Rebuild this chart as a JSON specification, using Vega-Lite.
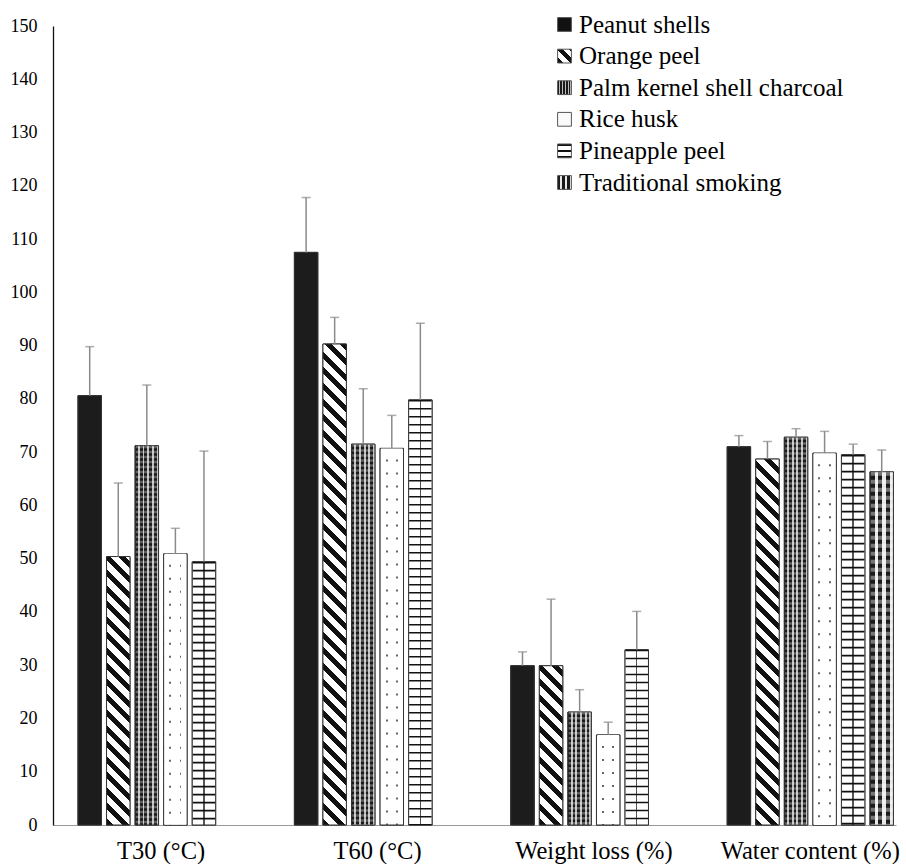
{
  "$schema": "https://vega.github.io/schema/vega-lite/v6.json",
  "autosize": {"type": "none"},
  "padding": {"left": 53, "top": 26, "right": 10, "bottom": 39},
  "width": 843,
  "height": 799,
  "background": "white",
  "config": {
    "view": {"stroke": null},
    "font": "Liberation Serif",
    "axis": {"labelFont": "Liberation Serif", "labelColor": "#000", "grid": false, "ticks": false, "title": null}
  },
  "params": [
    {"name": "diagStops", "value": [
      {"offset":0,"color":"#111"},{"offset":0.01125,"color":"#111"},{"offset":0.01125,"color":"#fff"},{"offset":0.025,"color":"#fff"},
      {"offset":0.025,"color":"#111"},{"offset":0.03625,"color":"#111"},{"offset":0.03625,"color":"#fff"},{"offset":0.05,"color":"#fff"},
      {"offset":0.05,"color":"#111"},{"offset":0.06125,"color":"#111"},{"offset":0.06125,"color":"#fff"},{"offset":0.075,"color":"#fff"},
      {"offset":0.075,"color":"#111"},{"offset":0.08625,"color":"#111"},{"offset":0.08625,"color":"#fff"},{"offset":0.1,"color":"#fff"},
      {"offset":0.1,"color":"#111"},{"offset":0.11125,"color":"#111"},{"offset":0.11125,"color":"#fff"},{"offset":0.125,"color":"#fff"},
      {"offset":0.125,"color":"#111"},{"offset":0.13625,"color":"#111"},{"offset":0.13625,"color":"#fff"},{"offset":0.15,"color":"#fff"},
      {"offset":0.15,"color":"#111"},{"offset":0.16125,"color":"#111"},{"offset":0.16125,"color":"#fff"},{"offset":0.175,"color":"#fff"},
      {"offset":0.175,"color":"#111"},{"offset":0.18625,"color":"#111"},{"offset":0.18625,"color":"#fff"},{"offset":0.2,"color":"#fff"},
      {"offset":0.2,"color":"#111"},{"offset":0.21125,"color":"#111"},{"offset":0.21125,"color":"#fff"},{"offset":0.225,"color":"#fff"},
      {"offset":0.225,"color":"#111"},{"offset":0.23625,"color":"#111"},{"offset":0.23625,"color":"#fff"},{"offset":0.25,"color":"#fff"},
      {"offset":0.25,"color":"#111"},{"offset":0.26125,"color":"#111"},{"offset":0.26125,"color":"#fff"},{"offset":0.275,"color":"#fff"},
      {"offset":0.275,"color":"#111"},{"offset":0.28625,"color":"#111"},{"offset":0.28625,"color":"#fff"},{"offset":0.3,"color":"#fff"},
      {"offset":0.3,"color":"#111"},{"offset":0.31125,"color":"#111"},{"offset":0.31125,"color":"#fff"},{"offset":0.325,"color":"#fff"},
      {"offset":0.325,"color":"#111"},{"offset":0.33625,"color":"#111"},{"offset":0.33625,"color":"#fff"},{"offset":0.35,"color":"#fff"},
      {"offset":0.35,"color":"#111"},{"offset":0.36125,"color":"#111"},{"offset":0.36125,"color":"#fff"},{"offset":0.375,"color":"#fff"},
      {"offset":0.375,"color":"#111"},{"offset":0.38625,"color":"#111"},{"offset":0.38625,"color":"#fff"},{"offset":0.4,"color":"#fff"},
      {"offset":0.4,"color":"#111"},{"offset":0.41125,"color":"#111"},{"offset":0.41125,"color":"#fff"},{"offset":0.425,"color":"#fff"},
      {"offset":0.425,"color":"#111"},{"offset":0.43625,"color":"#111"},{"offset":0.43625,"color":"#fff"},{"offset":0.45,"color":"#fff"},
      {"offset":0.45,"color":"#111"},{"offset":0.46125,"color":"#111"},{"offset":0.46125,"color":"#fff"},{"offset":0.475,"color":"#fff"},
      {"offset":0.475,"color":"#111"},{"offset":0.48625,"color":"#111"},{"offset":0.48625,"color":"#fff"},{"offset":0.5,"color":"#fff"},
      {"offset":0.5,"color":"#111"},{"offset":0.51125,"color":"#111"},{"offset":0.51125,"color":"#fff"},{"offset":0.525,"color":"#fff"},
      {"offset":0.525,"color":"#111"},{"offset":0.53625,"color":"#111"},{"offset":0.53625,"color":"#fff"},{"offset":0.55,"color":"#fff"},
      {"offset":0.55,"color":"#111"},{"offset":0.56125,"color":"#111"},{"offset":0.56125,"color":"#fff"},{"offset":0.575,"color":"#fff"},
      {"offset":0.575,"color":"#111"},{"offset":0.58625,"color":"#111"},{"offset":0.58625,"color":"#fff"},{"offset":0.6,"color":"#fff"},
      {"offset":0.6,"color":"#111"},{"offset":0.61125,"color":"#111"},{"offset":0.61125,"color":"#fff"},{"offset":0.625,"color":"#fff"},
      {"offset":0.625,"color":"#111"},{"offset":0.63625,"color":"#111"},{"offset":0.63625,"color":"#fff"},{"offset":0.65,"color":"#fff"},
      {"offset":0.65,"color":"#111"},{"offset":0.66125,"color":"#111"},{"offset":0.66125,"color":"#fff"},{"offset":0.675,"color":"#fff"},
      {"offset":0.675,"color":"#111"},{"offset":0.68625,"color":"#111"},{"offset":0.68625,"color":"#fff"},{"offset":0.7,"color":"#fff"},
      {"offset":0.7,"color":"#111"},{"offset":0.71125,"color":"#111"},{"offset":0.71125,"color":"#fff"},{"offset":0.725,"color":"#fff"},
      {"offset":0.725,"color":"#111"},{"offset":0.73625,"color":"#111"},{"offset":0.73625,"color":"#fff"},{"offset":0.75,"color":"#fff"},
      {"offset":0.75,"color":"#111"},{"offset":0.76125,"color":"#111"},{"offset":0.76125,"color":"#fff"},{"offset":0.775,"color":"#fff"},
      {"offset":0.775,"color":"#111"},{"offset":0.78625,"color":"#111"},{"offset":0.78625,"color":"#fff"},{"offset":0.8,"color":"#fff"},
      {"offset":0.8,"color":"#111"},{"offset":0.81125,"color":"#111"},{"offset":0.81125,"color":"#fff"},{"offset":0.825,"color":"#fff"},
      {"offset":0.825,"color":"#111"},{"offset":0.83625,"color":"#111"},{"offset":0.83625,"color":"#fff"},{"offset":0.85,"color":"#fff"},
      {"offset":0.85,"color":"#111"},{"offset":0.86125,"color":"#111"},{"offset":0.86125,"color":"#fff"},{"offset":0.875,"color":"#fff"},
      {"offset":0.875,"color":"#111"},{"offset":0.88625,"color":"#111"},{"offset":0.88625,"color":"#fff"},{"offset":0.9,"color":"#fff"},
      {"offset":0.9,"color":"#111"},{"offset":0.91125,"color":"#111"},{"offset":0.91125,"color":"#fff"},{"offset":0.925,"color":"#fff"},
      {"offset":0.925,"color":"#111"},{"offset":0.93625,"color":"#111"},{"offset":0.93625,"color":"#fff"},{"offset":0.95,"color":"#fff"},
      {"offset":0.95,"color":"#111"},{"offset":0.96125,"color":"#111"},{"offset":0.96125,"color":"#fff"},{"offset":0.975,"color":"#fff"},
      {"offset":0.975,"color":"#111"},{"offset":0.98625,"color":"#111"},{"offset":0.98625,"color":"#fff"},{"offset":1,"color":"#fff"}
    ]},
    {"name": "palmStops", "value": [
      {"offset":0,"color":"#1a1a1a"},{"offset":0.12,"color":"#1a1a1a"},{"offset":0.12,"color":"#bdbdbd"},{"offset":0.2,"color":"#bdbdbd"},
      {"offset":0.2,"color":"#1a1a1a"},{"offset":0.32,"color":"#1a1a1a"},{"offset":0.32,"color":"#bdbdbd"},{"offset":0.4,"color":"#bdbdbd"},
      {"offset":0.4,"color":"#1a1a1a"},{"offset":0.52,"color":"#1a1a1a"},{"offset":0.52,"color":"#bdbdbd"},{"offset":0.6,"color":"#bdbdbd"},
      {"offset":0.6,"color":"#1a1a1a"},{"offset":0.72,"color":"#1a1a1a"},{"offset":0.72,"color":"#bdbdbd"},{"offset":0.8,"color":"#bdbdbd"},
      {"offset":0.8,"color":"#1a1a1a"},{"offset":0.92,"color":"#1a1a1a"},{"offset":0.92,"color":"#bdbdbd"},{"offset":1,"color":"#bdbdbd"}
    ]},
    {"name": "riceStops", "value": [
      {"offset":0,"color":"#fff"},{"offset":0.24,"color":"#fff"},{"offset":0.24,"color":"#666"},{"offset":0.32,"color":"#666"},
      {"offset":0.32,"color":"#fff"},{"offset":0.68,"color":"#fff"},{"offset":0.68,"color":"#666"},{"offset":0.76,"color":"#666"},
      {"offset":0.76,"color":"#fff"},{"offset":1,"color":"#fff"}
    ]},
    {"name": "pineStops", "value": [
      {"offset":0,"color":"#fff"},{"offset":0.47,"color":"#fff"},{"offset":0.47,"color":"#555"},{"offset":0.53,"color":"#555"},
      {"offset":0.53,"color":"#fff"},{"offset":1,"color":"#fff"}
    ]},
    {"name": "tradStops", "value": [
      {"offset":0,"color":"#1a1a1a"},{"offset":0.2,"color":"#1a1a1a"},{"offset":0.2,"color":"#e8e8e8"},{"offset":0.333,"color":"#e8e8e8"},
      {"offset":0.333,"color":"#1a1a1a"},{"offset":0.533,"color":"#1a1a1a"},{"offset":0.533,"color":"#e8e8e8"},{"offset":0.667,"color":"#e8e8e8"},
      {"offset":0.667,"color":"#1a1a1a"},{"offset":0.867,"color":"#1a1a1a"},{"offset":0.867,"color":"#e8e8e8"},{"offset":1,"color":"#e8e8e8"}
    ]},
    {"name": "legDiag", "value": [
      {"offset":0,"color":"#111"},{"offset":0.2,"color":"#111"},{"offset":0.2,"color":"#fff"},{"offset":0.45,"color":"#fff"},
      {"offset":0.45,"color":"#111"},{"offset":0.7,"color":"#111"},{"offset":0.7,"color":"#fff"},{"offset":0.9,"color":"#fff"},
      {"offset":0.9,"color":"#111"},{"offset":1,"color":"#111"}
    ]},
    {"name": "legPine", "value": [
      {"offset":0,"color":"#111"},{"offset":0.15,"color":"#111"},{"offset":0.15,"color":"#fff"},{"offset":0.42,"color":"#fff"},
      {"offset":0.42,"color":"#111"},{"offset":0.58,"color":"#111"},{"offset":0.58,"color":"#fff"},{"offset":0.85,"color":"#fff"},
      {"offset":0.85,"color":"#111"},{"offset":1,"color":"#111"}
    ]}
  ],
  "data": {"values": [
    {"cat": "T30 (°C)", "series": "Peanut shells", "value": 80.6, "upper": 89.8},
    {"cat": "T30 (°C)", "series": "Orange peel", "value": 50.4, "upper": 64.2},
    {"cat": "T30 (°C)", "series": "Palm kernel shell charcoal", "value": 71.2, "upper": 82.6},
    {"cat": "T30 (°C)", "series": "Rice husk", "value": 50.9, "upper": 55.7},
    {"cat": "T30 (°C)", "series": "Pineapple peel", "value": 49.4, "upper": 70.2},
    {"cat": "T60 (°C)", "series": "Peanut shells", "value": 107.5, "upper": 117.8},
    {"cat": "T60 (°C)", "series": "Orange peel", "value": 90.3, "upper": 95.3},
    {"cat": "T60 (°C)", "series": "Palm kernel shell charcoal", "value": 71.5, "upper": 81.9},
    {"cat": "T60 (°C)", "series": "Rice husk", "value": 70.7, "upper": 76.9},
    {"cat": "T60 (°C)", "series": "Pineapple peel", "value": 79.8, "upper": 94.2},
    {"cat": "Weight loss (%)", "series": "Peanut shells", "value": 29.9, "upper": 32.5},
    {"cat": "Weight loss (%)", "series": "Orange peel", "value": 29.9, "upper": 42.4},
    {"cat": "Weight loss (%)", "series": "Palm kernel shell charcoal", "value": 21.2, "upper": 25.4},
    {"cat": "Weight loss (%)", "series": "Rice husk", "value": 16.9, "upper": 19.3},
    {"cat": "Weight loss (%)", "series": "Pineapple peel", "value": 32.9, "upper": 40.1},
    {"cat": "Water content (%)", "series": "Peanut shells", "value": 71.0, "upper": 73.1},
    {"cat": "Water content (%)", "series": "Orange peel", "value": 68.7, "upper": 72.0},
    {"cat": "Water content (%)", "series": "Palm kernel shell charcoal", "value": 72.8, "upper": 74.4},
    {"cat": "Water content (%)", "series": "Rice husk", "value": 69.8, "upper": 73.9},
    {"cat": "Water content (%)", "series": "Pineapple peel", "value": 69.5, "upper": 71.5},
    {"cat": "Water content (%)", "series": "Traditional smoking", "value": 66.3, "upper": 70.4}
  ]},
  "encoding": {
    "x": {
      "field": "cat", "type": "nominal",
      "sort": ["T30 (°C)", "T60 (°C)", "Weight loss (%)", "Water content (%)"],
      "scale": {"paddingInner": 0.208, "paddingOuter": 0.0518, "align": 1},
      "axis": {"labelAngle": 0, "labelFontSize": 24.5, "labelPadding": 14, "domainColor": "#999", "domainWidth": 1},
      "title": null
    },
    "xOffset": {
      "field": "series", "type": "nominal",
      "scale": {"domain": ["Peanut shells", "Orange peel", "Palm kernel shell charcoal", "Rice husk", "Pineapple peel", "Traditional smoking"], "paddingInner": 0.18, "paddingOuter": 0.09}
    },
    "y": {
      "field": "value", "type": "quantitative",
      "scale": {"domain": [0, 150], "nice": false},
      "axis": {"values": [0,10,20,30,40,50,60,70,80,90,100,110,120,130,140,150], "labelFontSize": 18, "labelPadding": 16, "domainColor": "#111", "domainWidth": 1.3},
      "title": null
    }
  },
  "layer": [
    {
      "mark": {"type": "bar", "stroke": "#333", "strokeWidth": 1},
      "encoding": {
        "color": {
          "field": "series", "type": "nominal",
          "scale": {
            "domain": ["Peanut shells", "Orange peel", "Palm kernel shell charcoal", "Rice husk", "Pineapple peel", "Traditional smoking"],
            "range": [
              "#111111",
              {"expr": "{gradient:'linear',x1:0,y1:1,x2:1,y2:0,stops:legDiag}"},
              {"expr": "{gradient:'linear',x1:0,y1:0,x2:1,y2:0,stops:palmStops}"},
              "#fafafa",
              {"expr": "{gradient:'linear',x1:0,y1:0,x2:0,y2:1,stops:legPine}"},
              {"expr": "{gradient:'linear',x1:0,y1:0,x2:1,y2:0,stops:tradStops}"}
            ]
          },
          "legend": {
            "title": null, "orient": "none", "legendX": 499, "legendY": -14, "padding": 0,
            "symbolType": "square", "symbolSize": 190, "symbolStrokeColor": "#555", "symbolStrokeWidth": 1, "symbolOpacity": 1,
            "labelFont": "Liberation Serif", "labelFontSize": 25, "labelColor": "#000", "labelOffset": 2, "labelLimit": 400,
            "rowPadding": 5.6
          }
        }
      }
    },
    {
      "mark": {
        "type": "bar", "stroke": "#333", "strokeWidth": 1,
        "fill": {"expr": "datum.series==='Orange peel' ? {gradient:'linear',x1:0,y1:1,x2:622.25*bandwidth('xOffset')/(pow(bandwidth('xOffset'),2)+pow(scale('y',0)-scale('y',datum.value),2)),y2:1-622.25*(scale('y',0)-scale('y',datum.value))/(pow(bandwidth('xOffset'),2)+pow(scale('y',0)-scale('y',datum.value),2)),stops:diagStops} : datum.series==='Palm kernel shell charcoal' ? {gradient:'linear',x1:0,y1:0,x2:1,y2:0,stops:palmStops} : datum.series==='Rice husk' ? {gradient:'linear',x1:0,y1:0,x2:1,y2:0,stops:riceStops} : datum.series==='Pineapple peel' ? {gradient:'linear',x1:0,y1:0,x2:1,y2:0,stops:pineStops} : datum.series==='Traditional smoking' ? {gradient:'linear',x1:0,y1:0,x2:1,y2:0,stops:tradStops} : '#1c1c1c'"}
      }
    },
    {
      "transform": [{"filter": "datum.series==='Pineapple peel'"}],
      "mark": {"type": "rule", "stroke": "#111", "strokeDash": [1.6, 6.4], "strokeCap": "butt", "strokeWidth": {"expr": "bandwidth('xOffset')-1"}},
      "encoding": {"y2": {"datum": 0}}
    },
    {
      "transform": [{"filter": "datum.series==='Rice husk'"}],
      "mark": {"type": "rule", "stroke": "#fff", "strokeDash": [11, 2], "strokeCap": "butt", "strokeWidth": {"expr": "bandwidth('xOffset')-2"}},
      "encoding": {"y2": {"datum": 0}}
    },
    {
      "transform": [{"filter": "datum.series==='Palm kernel shell charcoal'"}],
      "mark": {"type": "rule", "stroke": "#fff", "strokeOpacity": 0.3, "strokeDash": [2.5, 2.5], "strokeCap": "butt", "strokeWidth": {"expr": "bandwidth('xOffset')-1.5"}},
      "encoding": {"y2": {"datum": 0}}
    },
    {
      "transform": [{"filter": "datum.series==='Traditional smoking'"}],
      "mark": {"type": "rule", "stroke": "#fff", "strokeOpacity": 0.4, "strokeDash": [4, 4], "strokeCap": "butt", "strokeWidth": {"expr": "bandwidth('xOffset')-1.5"}},
      "encoding": {"y2": {"datum": 0}}
    },
    {
      "mark": {"type": "rule", "color": "#8a8a8a", "strokeWidth": 1.5},
      "encoding": {"y2": {"field": "upper"}}
    },
    {
      "mark": {"type": "tick", "color": "#8a8a8a", "thickness": 1.5, "size": 9},
      "encoding": {"y": {"field": "upper", "type": "quantitative"}}
    }
  ]
}
